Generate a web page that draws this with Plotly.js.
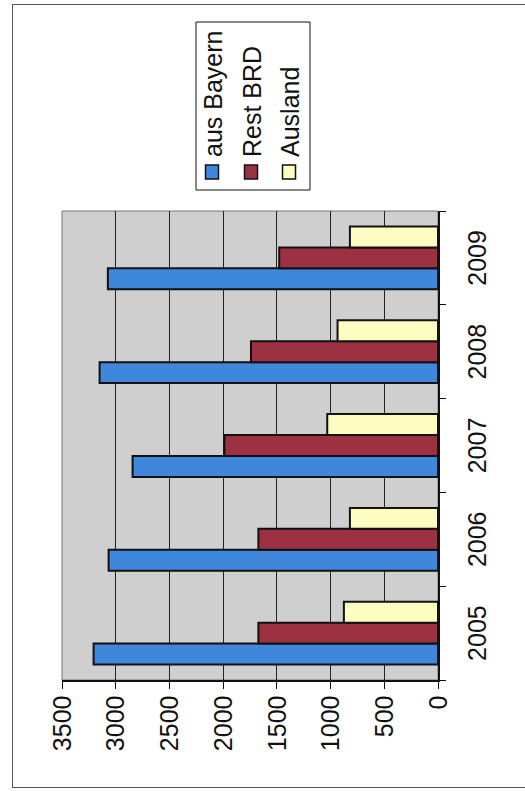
<!DOCTYPE html>
<html>
<head>
<meta charset="utf-8">
<script src="https://cdn.plot.ly/plotly-3.0.1.min.js"></script>
<style>
html, body { margin: 0; padding: 0; width: 525px; height: 791px; overflow: hidden; background: #ffffff; }
#frame { position: absolute; left: 12px; top: 4px; width: 600px; height: 784px; border-left: 1px solid #555; border-top: 1px solid #555; border-bottom: 1px solid #555; box-sizing: border-box; }
#chart { position: absolute; left: 0; top: 0; width: 791px; height: 525px; transform-origin: 0 0; transform: translate(0px, 791px) rotate(-90deg); }
</style>
</head>
<body>
<div id="frame"></div>
<div id="chart"></div>
<script>
var years = ["2005", "2006", "2007", "2008", "2009"];
var ausBayern = [3206, 3066, 2843, 3150, 3073];
var restBRD = [1672, 1672, 1988, 1741, 1478];
var ausland = [876, 820, 1031, 935, 820];
var seriesNames = ["aus Bayern", "Rest BRD", "Ausland"];
var valueTicks = [0, 500, 1000, 1500, 2000, 2500, 3000, 3500];

var colors = ["#3e87da", "#9c3142", "#fdfdc2"];
var font = "Liberation Sans, Arial, sans-serif";

function bar(name, vals, color) {
  return {
    type: "bar", name: name, x: years, y: vals,
    marker: { color: color, line: { color: "#111111", width: 2 } },
    hoverinfo: "x+y+name"
  };
}

var data = [
  bar(seriesNames[0], ausBayern, colors[0]),
  bar(seriesNames[1], restBRD, colors[1]),
  bar(seriesNames[2], ausland, colors[2])
];

// plot area geometry in (unrotated) pixels
var W = 791, H = 525, ML = 111, MR = 211, MT = 62, MB = 87;
var PW = W - ML - MR, PH = H - MT - MB;
function px(u) { return (u - ML) / PW; }
function py(v) { return (H - MB - v) / PH; }

var shapes = [
  { type: "rect", xref: "paper", yref: "paper", x0: 0, x1: 1, y0: 0, y1: 1,
    line: { color: "#777777", width: 1 }, layer: "below" },
  { type: "rect", xref: "paper", yref: "paper", x0: px(601), x1: px(769), y0: py(310), y1: py(196),
    fillcolor: "#ffffff", line: { color: "#111111", width: 1 } }
];
var annotations = [];
var itemV = [212, 251, 289];
seriesNames.forEach(function (n, i) {
  shapes.push({ type: "rect", xref: "paper", yref: "paper",
    x0: px(612), x1: px(626), y0: py(itemV[i] + 6.5), y1: py(itemV[i] - 6.5),
    fillcolor: colors[i], line: { color: "#111111", width: 1.5 } });
  annotations.push({ xref: "paper", yref: "paper", x: px(632), y: py(itemV[i] + 1),
    xanchor: "left", yanchor: "middle", showarrow: false, text: n,
    font: { family: font, size: 25, color: "#111111" } });
});

var layout = {
  width: W, height: H,
  margin: { l: ML, r: MR, t: MT, b: MB, pad: 0 },
  paper_bgcolor: "rgba(0,0,0,0)",
  plot_bgcolor: "#cfcfcf",
  barmode: "group",
  bargap: 0.33,
  bargroupgap: 0,
  font: { family: font, size: 25, color: "#111111" },
  showlegend: false,
  xaxis: {
    type: "category",
    showgrid: false, zeroline: false,
    showline: true, linecolor: "#111111", linewidth: 1.5,
    ticks: "outside", ticklen: 6, tickcolor: "#111111", tickson: "boundaries",
    ticklabelstandoff: 16,
    tickfont: { family: font, size: 25, color: "#111111" }
  },
  yaxis: {
    range: [0, 3500],
    tickvals: valueTicks,
    ticktext: valueTicks.map(String),
    showgrid: true, gridcolor: "#222222", gridwidth: 1.2,
    zeroline: false,
    showline: true, linecolor: "#111111", linewidth: 1.5,
    ticks: "outside", ticklen: 7, tickcolor: "#111111",
    ticklabelstandoff: 2,
    tickfont: { family: font, size: 25, color: "#111111" }
  },
  shapes: shapes,
  annotations: annotations
};

Plotly.newPlot("chart", data, layout, { displayModeBar: false, staticPlot: true });
</script>
</body>
</html>
